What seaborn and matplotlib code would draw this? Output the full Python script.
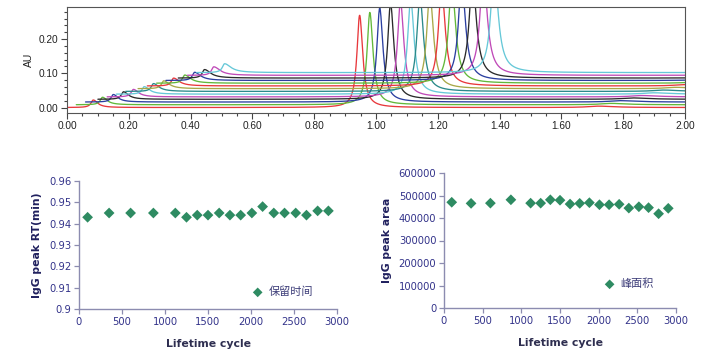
import numpy as np
import pandas as pd
import seaborn as sns
import matplotlib.pyplot as plt
from matplotlib.ticker import MultipleLocator, FormatStrFormatter

# ---- chromatogram overlay (top panel) ----
trace_colors = ["#e8383c", "#62b83a", "#2b3fa0", "#2a2a2a", "#c04ab8", "#66c8d8", "#2a8a8a",
                "#a8a848", "#e8383c", "#62b83a", "#2b3fa0", "#2a2a2a", "#c04ab8", "#66c8d8"]
baseline_au = [0.000, 0.008, 0.016, 0.024, 0.031, 0.039, 0.047, 0.055, 0.063, 0.071, 0.079, 0.086, 0.094, 0.102]
trace_start = [0.00, 0.03, 0.06, 0.10, 0.13, 0.16, 0.19, 0.23, 0.26, 0.29, 0.32, 0.36, 0.39, 0.42]
bump_rt = [0.085, 0.115, 0.150, 0.183, 0.215, 0.250, 0.280, 0.313, 0.345, 0.381, 0.413, 0.445, 0.475, 0.510]
bump_au = [0.022, 0.022, 0.022, 0.022, 0.022, 0.022, 0.023, 0.023, 0.023, 0.024, 0.024, 0.025, 0.025, 0.026]
peak_rt = [0.947, 0.980, 1.012, 1.047, 1.079, 1.112, 1.142, 1.174, 1.212, 1.245, 1.277, 1.312, 1.347, 1.382]
peak_au = [0.27, 0.27, 0.275, 0.28, 0.28, 0.28, 0.28, 0.28, 0.29, 0.29, 0.29, 0.29, 0.30, 0.30]
late_rt = [1.72, 1.76, 1.79, 1.83, 1.86, 1.90, 1.93, 1.97, 2.00, 2.04, 2.07, 2.11, 2.14, 2.18]
late_au = [0.004, 0.004, 0.004, 0.004, 0.004, 0.004, 0.004, 0.004, 0.004, 0.004, 0.004, 0.004, 0.004, 0.004]

# ---- lifetime data (bottom panels) ----
cycles = [100, 350, 600, 865, 1120, 1250, 1375, 1500, 1630, 1755, 1880, 2010, 2135, 2265, 2390, 2520, 2645, 2775, 2900]
rt_min = [0.943, 0.945, 0.945, 0.945, 0.945, 0.943, 0.944, 0.944, 0.945, 0.944,
          0.944, 0.945, 0.948, 0.945, 0.945, 0.945, 0.944, 0.946, 0.946]
peak_area = [470000, 465000, 466000, 481000, 466000, 466000, 481000, 479000, 462000, 465000,
             468000, 459000, 459000, 461000, 444000, 450000, 446000, 419000, 443000]


def peak_shape(x, x0, h, wl, wr):
    w = np.where(x < x0, wl, wr)
    return h / (1 + ((x - x0) / w) ** 2)


rows = []
for i in range(len(trace_colors)):
    x = np.linspace(trace_start[i], 2.0, 2000)
    y = (baseline_au[i]
         + peak_shape(x, bump_rt[i], bump_au[i], 0.009, 0.017 + 0.0006 * i)
         + peak_shape(x, peak_rt[i], peak_au[i], 0.0105 + 0.0002 * i, 0.012 + 0.0003 * i)
         + peak_shape(x, late_rt[i], late_au[i], 0.04, 0.06))
    rows.append(pd.DataFrame({"time": x, "au": y, "trace": i}))
chrom = pd.concat(rows, ignore_index=True)

sns.set_style("ticks")
plt.rcParams["font.family"] = ["DejaVu Sans", "Noto Sans CJK SC"]

fig = plt.figure(figsize=(7.17, 3.54), dpi=100)

# top panel
ax0 = fig.add_axes([67 / 717, 1 - 113 / 354, 618 / 717, 106 / 354])
sns.lineplot(data=chrom, x="time", y="au", hue="trace", palette=trace_colors,
             estimator=None, sort=False, legend=False, linewidth=0.95, ax=ax0)
ax0.set_xlim(0, 2.0)
ax0.set_ylim(-0.016, 0.294)
ax0.xaxis.set_major_locator(MultipleLocator(0.2))
ax0.xaxis.set_minor_locator(MultipleLocator(0.05))
ax0.yaxis.set_major_locator(MultipleLocator(0.1))
ax0.yaxis.set_minor_locator(MultipleLocator(0.02))
ax0.xaxis.set_major_formatter(FormatStrFormatter("%.2f"))
ax0.yaxis.set_major_formatter(FormatStrFormatter("%.2f"))
ax0.tick_params(which="major", length=4, width=0.8, labelsize=7.3, colors="#444444",
                labelcolor="#222222", pad=2)
ax0.tick_params(which="minor", length=2.5, width=0.8, colors="#444444")
for s in ax0.spines.values():
    s.set_color("#555555")
    s.set_linewidth(0.8)
ax0.set_xlabel("")
ax0.set_ylabel("AU", fontsize=7.5, color="#222222", labelpad=4,
               family=["Liberation Sans"])
for lab in ax0.get_xticklabels() + ax0.get_yticklabels():
    lab.set_family(["Liberation Sans"])

navy = "#33338a"
spine_col = "#8c8cb0"
green = "#2e8b62"


def style_bottom(ax, ylab):
    sns.despine(ax=ax)
    for s in ("left", "bottom"):
        ax.spines[s].set_color(spine_col)
        ax.spines[s].set_linewidth(1.0)
    ax.tick_params(length=3.5, width=0.9, colors=spine_col, labelcolor=navy,
                   labelsize=7.2, pad=2)
    ax.set_xlabel("Lifetime cycle", fontsize=7.8, fontweight="bold", color="#2e2e50", labelpad=9)
    ax.set_ylabel(ylab, fontsize=7.8, fontweight="bold", color="#20205e", labelpad=5)


# bottom left
ax1 = fig.add_axes([79 / 717, 1 - 309 / 354, 258 / 717, 128 / 354])
sns.scatterplot(x=cycles, y=rt_min, marker="D", color=green, s=30, edgecolor="none",
                label="保留时间", ax=ax1)
ax1.set_xlim(0, 3000)
ax1.set_ylim(0.9, 0.96)
ax1.xaxis.set_major_locator(MultipleLocator(500))
ax1.set_yticks(np.arange(0.90, 0.961, 0.01))
ax1.set_yticklabels(["0.9", "0.91", "0.92", "0.93", "0.94", "0.95", "0.96"])
style_bottom(ax1, "IgG peak RT(min)")
leg1 = ax1.legend(loc="center left", bbox_to_anchor=(0.628, 0.133), frameon=False,
                  handletextpad=0.0, borderpad=0, fontsize=8, markerscale=0.9)

# bottom right
ax2 = fig.add_axes([444 / 717, 1 - 308 / 354, 232 / 717, 135 / 354])
sns.scatterplot(x=cycles, y=peak_area, marker="D", color=green, s=30, edgecolor="none",
                label="峰面积", ax=ax2)
ax2.set_xlim(0, 3000)
ax2.set_ylim(0, 600000)
ax2.xaxis.set_major_locator(MultipleLocator(500))
ax2.yaxis.set_major_locator(MultipleLocator(100000))
ax2.yaxis.set_major_formatter(FormatStrFormatter("%d"))
style_bottom(ax2, "IgG peak area")
leg2 = ax2.legend(loc="center left", bbox_to_anchor=(0.642, 0.178), frameon=False,
                  handletextpad=0.0, borderpad=0, fontsize=8, markerscale=0.9)

for leg in (leg1, leg2):
    for t in leg.get_texts():
        t.set_color("#3c3c78")
        t.set_family(["Noto Sans CJK SC", "DejaVu Sans"])

fig.savefig("out.png", dpi=100)
